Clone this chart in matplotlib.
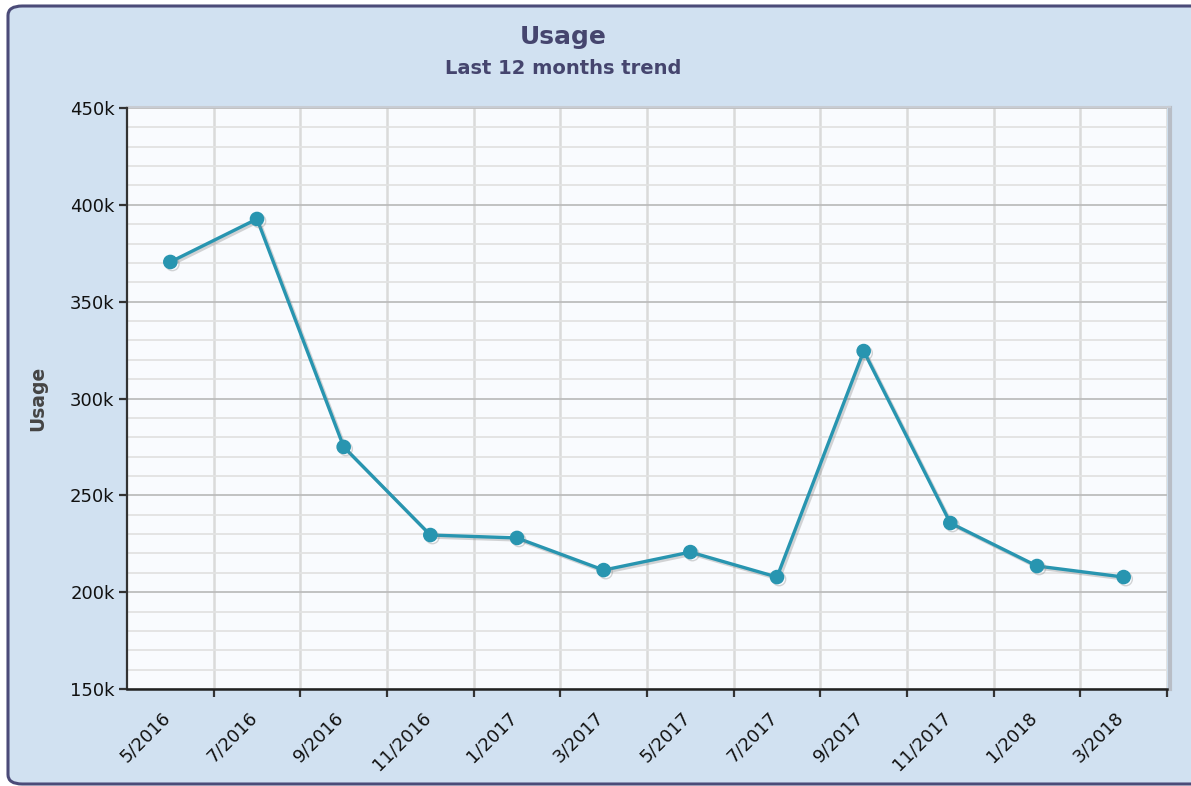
import matplotlib
matplotlib.use("Agg")
import matplotlib.pyplot as plt
from matplotlib.patches import FancyBboxPatch
from matplotlib.ticker import MultipleLocator, FuncFormatter
from matplotlib.transforms import ScaledTranslation
import matplotlib.patheffects as pe

months = ["5/2016", "7/2016", "9/2016", "11/2016", "1/2017", "3/2017",
          "5/2017", "7/2017", "9/2017", "11/2017", "1/2018", "3/2018"]
usage = [370500, 392700, 275000, 229500, 228000, 211400,
         220700, 207800, 324500, 235700, 213500, 207800]

W, H = 1191, 786
fig = plt.figure(figsize=(W / 100, H / 100), dpi=100)
fig.patch.set_facecolor("white")

# outer rounded panel
panel = FancyBboxPatch((8 / W, 2 / H), 1.02 - 8 / W, (780 - 2) / H,
                       boxstyle="round,pad=0,rounding_size=0.012",
                       transform=fig.transFigure, facecolor="#D1E1F1",
                       edgecolor="#4B4B78", linewidth=2.2, zorder=-10)
fig.patches.append(panel)

ax = fig.add_axes([127 / W, 1 - 689 / H, (1167 - 127) / W, (689 - 108) / H])
ax.set_zorder(1)
ax.set_facecolor("#F9FBFE")

x = list(range(len(months)))
ax.plot(x, usage, color="#2895B0", linewidth=2.4, marker="o", markersize=9.5,
        zorder=5, solid_joinstyle="round",
        path_effects=[pe.SimpleLineShadow(offset=(1.5, -1.5), shadow_color="#888888", alpha=0.35),
                      pe.Normal()])

ax.set_xlim(-0.5, len(months) - 0.5)
ax.set_ylim(150000, 450000)

ax.yaxis.set_major_locator(MultipleLocator(50000))
ax.yaxis.set_minor_locator(MultipleLocator(10000))
ax.yaxis.set_major_formatter(FuncFormatter(lambda v, p: f"{int(v/1000)}k"))

ax.set_xticks([i + 0.5 for i in x])
ax.set_xticklabels([])
ax.set_xticks(x, minor=True)
ax.set_xticklabels(months, minor=True, rotation=45, ha="right",
                   rotation_mode="anchor", fontsize=13, color="#111111")
ax.tick_params(axis="x", which="minor", length=0, pad=14)
ax.tick_params(axis="x", which="major", length=6, width=1.6, color="#333333", direction="out")
ax.tick_params(axis="y", which="major", length=6, width=1.6, color="#333333",
               labelsize=13, labelcolor="#111111", pad=3)
ax.tick_params(axis="y", which="minor", length=0)

shift = ScaledTranslation(-9 / 100, 0, fig.dpi_scale_trans)
for lbl in ax.get_xticklabels(minor=True):
    lbl.set_transform(lbl.get_transform() + shift)

ax.grid(True, axis="y", which="major", color="#BDBDBD", linewidth=1.3, zorder=1)
ax.grid(True, axis="y", which="minor", color="#E2E2E2", linewidth=1.3, zorder=1)
ax.grid(True, axis="x", which="major", color="#DADADA", linewidth=1.8, zorder=1)
ax.set_axisbelow(True)

for side in ["top", "right"]:
    ax.spines[side].set_visible(False)
ax.spines["left"].set_color("#333333")
ax.spines["left"].set_linewidth(1.6)
ax.spines["bottom"].set_color("#222222")
ax.spines["bottom"].set_linewidth(1.8)

# right / top edge shadow of plot area
ax.plot([1.003, 1.003], [0, 1], transform=ax.transAxes, color="#B8BDC6",
        linewidth=3, clip_on=False, zorder=0.5)
ax.plot([0, 1.003], [1.002, 1.002], transform=ax.transAxes, color="#C8CCD3",
        linewidth=1.5, clip_on=False, zorder=0.5)

ax.set_ylabel("Usage", fontsize=13.5, color="#444444", fontweight="bold", labelpad=16)

fig.text(563 / W, 1 - 37 / H, "Usage", ha="center", va="center",
         fontsize=18, fontweight="bold", color="#45456E")
fig.text(563 / W, 1 - 69 / H, "Last 12 months trend", ha="center", va="center",
         fontsize=14, fontweight="semibold", color="#45456E")

fig.savefig("out.png", dpi=100, facecolor=fig.get_facecolor())
